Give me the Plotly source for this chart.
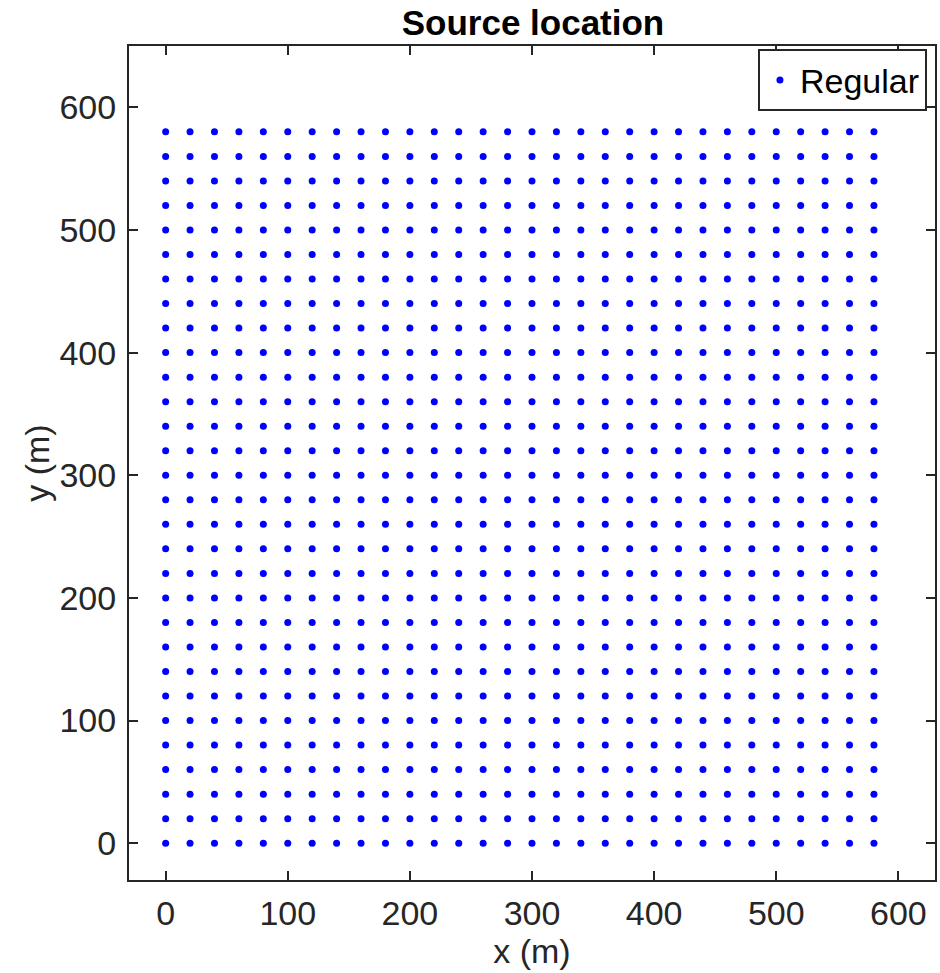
import plotly.graph_objects as go

x_vals = list(range(0, 600, 20))
y_vals = list(range(0, 600, 20))
tick_vals = [0, 100, 200, 300, 400, 500, 600]
xs = [x for y in y_vals for x in x_vals]
ys = [y for y in y_vals for x in x_vals]

font = "Liberation Sans, Arial, Helvetica, sans-serif"
fig = go.Figure()
fig.add_trace(go.Scatter(x=xs, y=ys, mode="markers", name="Regular",
                         marker=dict(color="#0000ff", size=7)))

axis_common = dict(showline=True, linecolor="#262626", linewidth=2, mirror="ticks",
                   ticks="inside", ticklen=9, tickwidth=2, tickcolor="#262626",
                   showgrid=False, zeroline=False,
                   tickfont=dict(size=34, color="#262626", family=font),
                   title_font=dict(size=34, color="#262626", family=font))
fig.update_xaxes(range=[-30, 630], tickvals=tick_vals,
                 title_text="x (m)", title_standoff=4, ticklabelstandoff=2, **axis_common)
fig.update_yaxes(range=[-30, 650], tickvals=tick_vals,
                 title_text="y (m)", title_standoff=0, ticklabelstandoff=4, **axis_common)
fig.update_layout(
    width=940, height=973,
    margin=dict(l=129, r=3, t=46, b=93),
    plot_bgcolor="white", paper_bgcolor="white",
    title=dict(text="<b>Source location</b>", x=0.567, xanchor="center", y=0.977, yanchor="middle",
               font=dict(size=35, color="black", family=font)),
    showlegend=True,
    legend=dict(x=0.99, y=0.996, xanchor="right", yanchor="top",
                bordercolor="#262626", borderwidth=2, bgcolor="white",
                font=dict(size=34, color="black", family=font),
                itemwidth=30, tracegroupgap=0),
)
fig.write_html("out.html", config={"displayModeBar": False},
               post_script="document.body.style.margin='0';")
